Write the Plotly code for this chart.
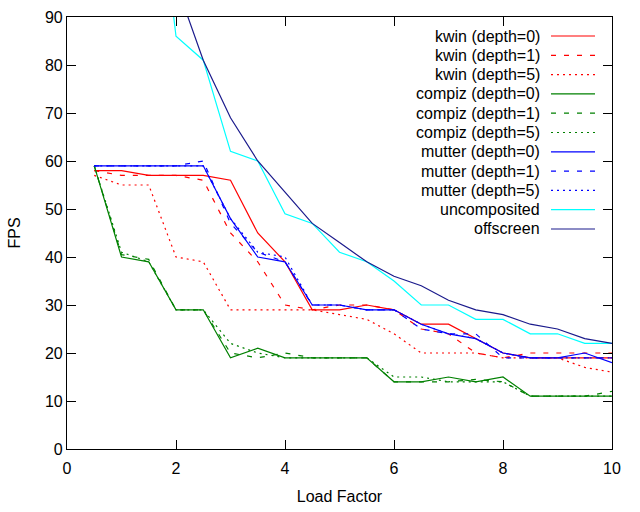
import plotly.graph_objects as go

load_factor = [0.5, 1, 1.5, 2, 2.5, 3, 3.5, 4, 4.5, 5, 5.5, 6, 6.5, 7, 7.5, 8, 8.5, 9, 9.5, 10]

kwin_d0 = [58, 58, 57, 57, 57, 56, 45, 39, 29, 29, 30, 29, 26, 26, 23, 20, 19, 19, 19, 19]
kwin_d1 = [58, 57, 57, 57, 56, 45, 39, 30, 29, 30, 30, 29, 25, 24, 20, 19, 20, 20, 20, 20]
kwin_d5 = [57, 55, 55, 40, 39, 29, 29, 29, 29, 28, 27, 24, 20, 20, 20, 19, 19, 19, 17, 16]
compiz_d0 = [59, 40, 39, 29, 29, 19, 21, 19, 19, 19, 19, 14, 14, 15, 14, 15, 11, 11, 11, 11]
compiz_d1 = [59, 40.5, 39.5, 29, 29, 20, 19, 20, 19, 19, 19, 14, 14, 14, 14.5, 14, 11, 11, 11, 12]
compiz_d5 = [59, 41, 39, 29, 29, 22, 20, 19, 19, 19, 19, 15, 15, 14, 14, 14, 11, 11, 11, 11]
mutter_d0 = [59, 59, 59, 59, 59, 48, 40, 39, 30, 30, 29, 29, 26, 24, 23, 20, 19, 19, 20, 18]
mutter_d1 = [59, 59, 59, 59, 60, 47, 41, 39, 30, 30, 29, 29, 25, 24, 24, 19, 19, 19, 19, 19]
mutter_d5 = [59, 59, 59, 59, 59, 48, 41, 40, 30, 30, 29, 29, 26, 24, 23, 20, 19, 19, 19, 19]
uncomposited = [None, None, 134, 86, 81, 62, 60, 49, 47, 41, 39, 35, 30, 30, 27, 27, 24, 24, 22, 22]
offscreen = [None, None, None, 97, 81, 69, 60, 53.5, 47, 43, 39, 36, 34, 31, 29, 28, 26, 25, 23, 22]

series_names = ["kwin (depth=0)", "kwin (depth=1)", "kwin (depth=5)",
                "compiz (depth=0)", "compiz (depth=1)", "compiz (depth=5)",
                "mutter (depth=0)", "mutter (depth=1)", "mutter (depth=5)",
                "uncomposited", "offscreen"]
series_values = [kwin_d0, kwin_d1, kwin_d5, compiz_d0, compiz_d1, compiz_d5,
                 mutter_d0, mutter_d1, mutter_d5, uncomposited, offscreen]
series_colors = ["#ff0000", "#ff0000", "#ff0000",
                 "#008000", "#008000", "#008000",
                 "#0000ff", "#0000ff", "#0000ff",
                 "#00ffff", "#1a1a8c"]
DASHED = "5px,8px"
DOTTED = "2px,4px"
series_dash = ["solid", DASHED, DOTTED, "solid", DASHED, DOTTED,
               "solid", DASHED, DOTTED, "solid", "solid"]

FONT = "Liberation Sans, Arial, sans-serif"
FS = 16
fig = go.Figure()
for name, vals, col, dash in zip(series_names, series_values, series_colors, series_dash):
    fig.add_trace(go.Scatter(x=load_factor, y=vals, mode="lines", name=name,
                             line=dict(color=col, width=1.2, dash=dash),
                             showlegend=False, connectgaps=False))

# gnuplot-style legend: right-aligned text, line sample on the right
W, H = 545.0, 432.0
row0_py, row_step = 36.0, 19.3
for i, (name, col, dash) in enumerate(zip(series_names, series_colors, series_dash)):
    yp = (449 - (row0_py + i * row_step)) / H
    fig.add_annotation(x=(542 - 67) / W, y=yp, xref="paper", yref="paper",
                       text=name, showarrow=False, xanchor="right", yanchor="middle",
                       font=dict(family=FONT, size=FS, color="black"))
    fig.add_shape(type="line", xref="paper", yref="paper",
                  x0=(551 - 67) / W, x1=(595 - 67) / W, y0=yp, y1=yp,
                  line=dict(color=col, width=1.2, dash=dash))

axis_common = dict(showline=True, linecolor="black", linewidth=1.2, mirror="ticks",
                   ticks="inside", ticklen=9, tickcolor="black", tickwidth=1.2,
                   showgrid=False, zeroline=False, automargin=False,
                   tickfont=dict(family=FONT, size=FS, color="black"))
fig.update_layout(
    width=640, height=512,
    margin=dict(l=67, r=28, t=17, b=63),
    paper_bgcolor="white", plot_bgcolor="white",
    font=dict(family=FONT, size=FS, color="black"),
    xaxis=dict(range=[0, 10], tickvals=[0, 2, 4, 6, 8, 10], ticklabelstandoff=5,
               title=dict(text="Load Factor", standoff=14, font=dict(family=FONT, size=FS)),
               **axis_common),
    yaxis=dict(range=[0, 90], tickvals=[0, 10, 20, 30, 40, 50, 60, 70, 80, 90],
               title=dict(text="FPS", standoff=20, font=dict(family=FONT, size=FS)),
               **axis_common),
)
fig.write_html("out.html", post_script="document.body.style.margin='0';",
               config={"displayModeBar": False})
